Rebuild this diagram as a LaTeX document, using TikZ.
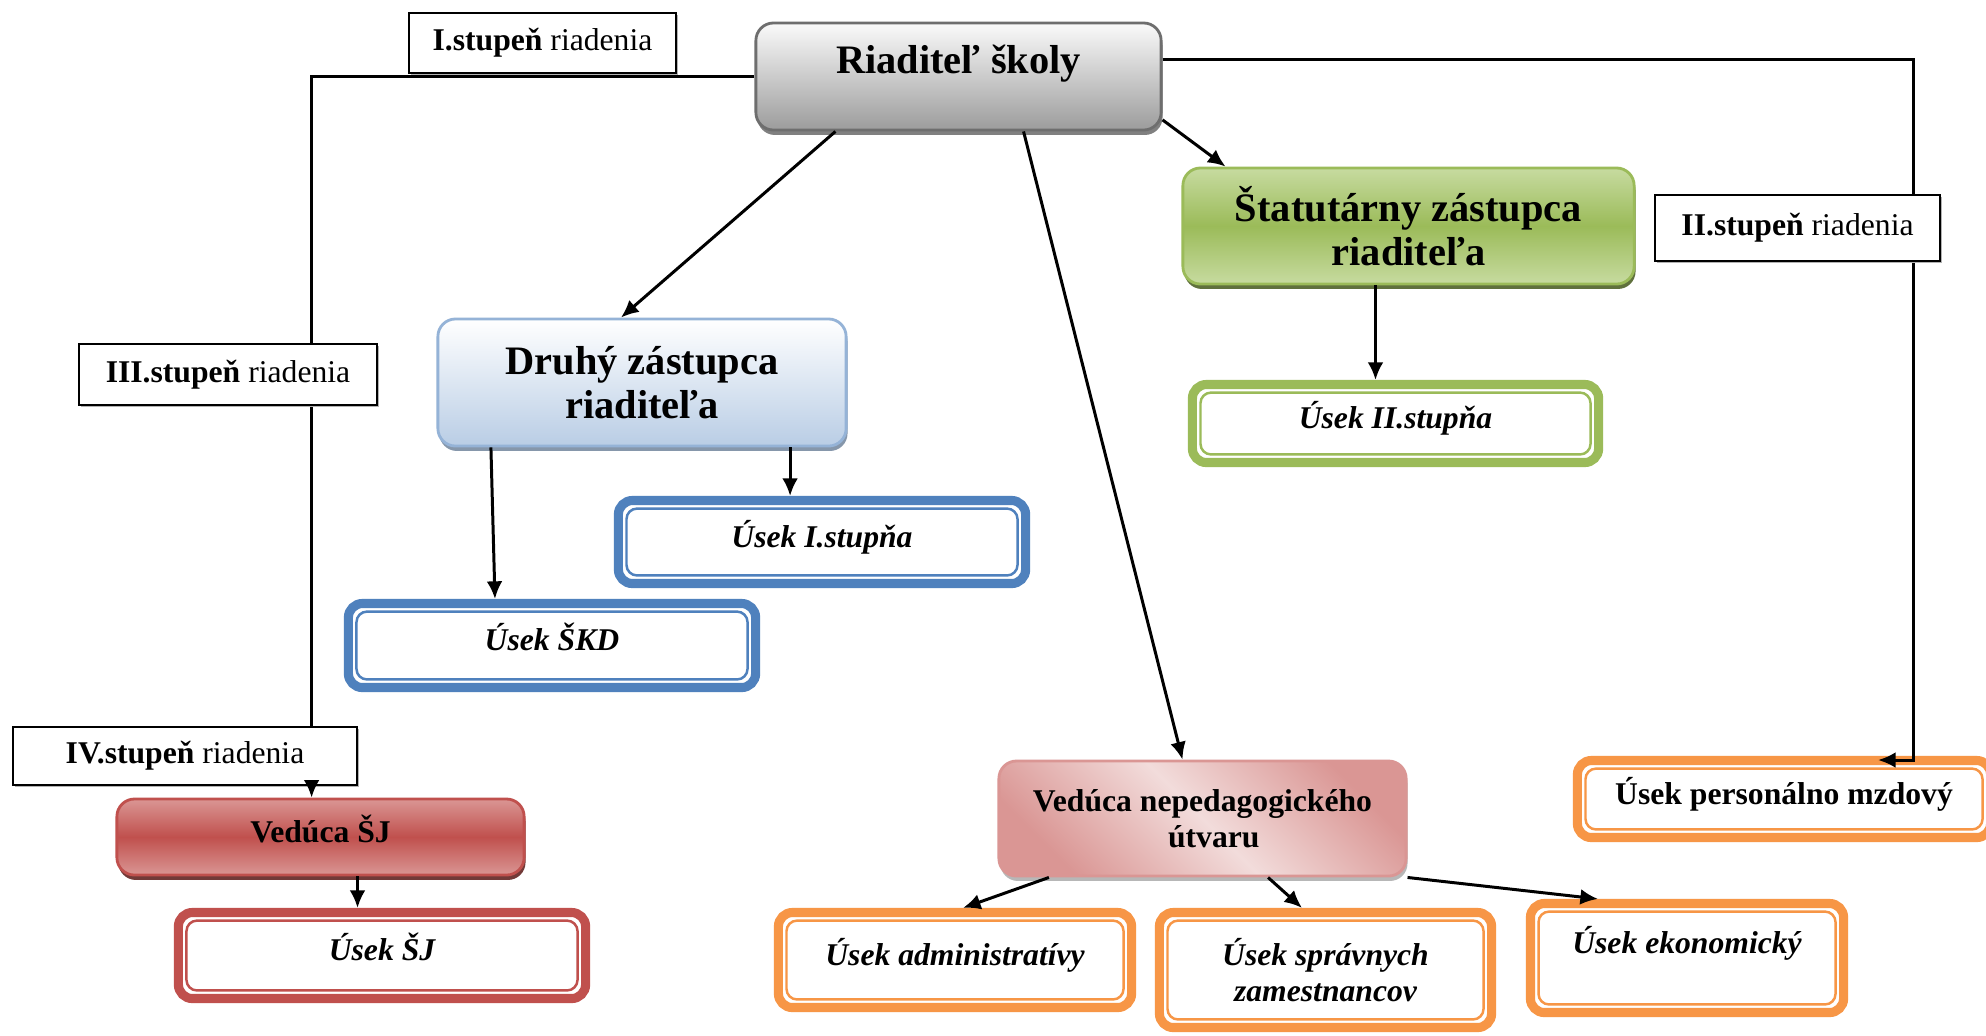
\documentclass[tikz,border=0pt]{standalone}
\usepackage{fontspec}
\setmainfont{Liberation Serif}
\usetikzlibrary{arrows.meta,shadows}

\definecolor{grayTop}{HTML}{FAFAFA}
\definecolor{grayBot}{HTML}{9C9C9C}
\definecolor{grayLine}{HTML}{6E6E6E}
\definecolor{greenMid}{HTML}{9BBB59}
\definecolor{greenLight}{HTML}{C7DBA0}
\definecolor{greenDark}{HTML}{4F6228}
\definecolor{blueLight}{HTML}{B9CDE5}
\definecolor{blueLine}{HTML}{95B3D7}
\definecolor{blueUnit}{HTML}{4F81BD}
\definecolor{redMid}{HTML}{C0504D}
\definecolor{redLight}{HTML}{DA9694}
\definecolor{redDark}{HTML}{632523}
\definecolor{pinkLight}{HTML}{F2DCDB}
\definecolor{orangeUnit}{HTML}{F79646}

\tikzset{
  head/.style={rounded corners=5pt, line width=0.8pt, align=center, inner sep=0pt,
    font=\fontsize{11.5}{12.6}\selectfont\bfseries},
  lvl/.style={draw, line width=0.6pt, fill=white, inner sep=0pt,
    font=\fontsize{9}{10}\selectfont,
    drop shadow={shadow xshift=0.6pt, shadow yshift=-0.6pt, fill=black!30, opacity=1}},
  unit/.style={draw=#1, line width=2.6pt, rounded corners=4pt, fill=white, inner sep=0pt,
    align=center, font=\fontsize{9}{10.4}\selectfont\bfseries\itshape},
  one/.style={text height=0.2cm, text depth=0.1cm},
  inner/.style={draw=#1, line width=0.7pt, rounded corners=3pt},
  link/.style={line width=0.85pt},
}

\begin{document}
\begin{tikzpicture}[x=0.01cm, y=-0.01cm, >={Latex[length=5pt,width=4.5pt]}]
    \useasboundingbox[fill=white] (0,0) rectangle (1986,1035);

    % Head boxes
    \node[head, draw=grayLine, top color=grayTop, bottom color=grayBot,
        drop shadow={shadow xshift=0.4pt, shadow yshift=-1.4pt, fill=black!55, opacity=0.9},
        minimum width=4.05cm, minimum height=1.07cm, text height=0.27cm, text depth=0.33cm]
        (riad) at (958.5,76.5) {Riaditeľ školy};
    \node[head, draw=greenMid, top color=greenLight, bottom color=greenLight, middle color=greenMid,
        drop shadow={shadow xshift=0.4pt, shadow yshift=-1.4pt, fill=greenDark, opacity=0.9},
        minimum width=4.51cm, minimum height=1.16cm]
        (stat) at (1408.5,226) {Štatutárny zástupca\\riaditeľa};
    \node[head, draw=blueLine, top color=white, bottom color=blueLight,
        drop shadow={shadow xshift=0.4pt, shadow yshift=-1.4pt, fill=blueLine!70!black, opacity=0.8},
        minimum width=4.08cm, minimum height=1.27cm]
        (druhy) at (642,382.5) {Druhý zástupca\\riaditeľa};
    \node[head, one, draw=redMid, top color=redLight, bottom color=redLight, middle color=redMid,
        drop shadow={shadow xshift=0.4pt, shadow yshift=-1.4pt, fill=redDark, opacity=0.9},
        minimum width=4.07cm, minimum height=0.76cm, font=\fontsize{9}{10.4}\selectfont\bfseries]
        (vsj) at (320.5,837) {Vedúca ŠJ};
    \node[head, draw=redLight, top color=redLight, bottom color=redLight, middle color=pinkLight,
        shading angle=-45, align=left,
        drop shadow={shadow xshift=0.4pt, shadow yshift=-1.4pt, fill=black!35, opacity=0.8},
        minimum width=4.07cm, minimum height=1.15cm, font=\fontsize{9}{10.1}\selectfont\bfseries]
        (vnu) at (1202.5,818.5) {Vedúca nepedagogického\\\hspace*{1.35cm}útvaru};

    % Units
    \node[unit=greenMid, one, minimum width=4.06cm, minimum height=0.78cm] (u2) at (1395.5,423.5) {Úsek II.stupňa};
    \node[unit=blueUnit, one, minimum width=4.07cm, minimum height=0.83cm] (u1) at (822,542) {Úsek I.stupňa};
    \node[unit=blueUnit, one, minimum width=4.07cm, minimum height=0.84cm] (skd) at (552,645.5) {Úsek ŠKD};
    \node[unit=redMid, one, minimum width=4.07cm, minimum height=0.86cm] (usj) at (382,955.5) {Úsek ŠJ};
    \node[unit=orangeUnit, one, minimum width=3.53cm, minimum height=0.95cm] (adm) at (955,960) {Úsek administratívy};
    \node[unit=orangeUnit, minimum width=3.32cm, minimum height=1.15cm] (spr) at (1325.5,970) {Úsek správnych\\zamestnancov};
    \node[unit=orangeUnit, minimum width=3.13cm, minimum height=1.09cm] (eko) at (1687,958) {Úsek ekonomický\\\mbox{}};
    \node[unit=orangeUnit, one, minimum width=4.13cm, minimum height=0.77cm,
        font=\fontsize{9}{10.4}\selectfont\bfseries] (pmz) at (1784,799) {Úsek personálno mzdový};
    \foreach \n/\c in {u2/greenMid, u1/blueUnit, skd/blueUnit, usj/redMid,
        adm/orangeUnit, spr/orangeUnit, eko/orangeUnit, pmz/orangeUnit}
        \draw[inner=\c] ([shift={(3.6pt,-3.6pt)}]\n.north west) rectangle ([shift={(-3.6pt,3.6pt)}]\n.south east);

    % Connectors
    \coordinate (ivtop) at (311.6,727);
    \coordinate (rturn) at (1913,760);
    \coordinate (pmzin) at (1878,760);
    \draw[link] (riad.west) -| (ivtop);
    \draw[link,->] ([yshift=4.8pt]riad.east) -| (rturn) -- (pmzin);
    \draw[link,->] (riad.-12) -- (stat.162);
    \draw[link,->] ([xshift=-1.23cm]riad.south) -- ([xshift=-0.21cm]druhy.north);
    \draw[link,->] ([xshift=0.65cm]riad.south) -- ([xshift=-0.2cm]vnu.north);
    \draw[link,->] ([xshift=-0.33cm]stat.south) -- ([xshift=-0.33cm]stat.south |- u2.north);
    \draw[link,->] ([xshift=1.48cm]druhy.south) -- ([xshift=1.48cm]druhy.south |- u1.north);
    \draw[link,->] ([xshift=-1.51cm]druhy.south) -- ([xshift=-0.57cm]skd.north);
    \draw[link,->] ([xshift=0.37cm]vsj.south) -- ([xshift=0.37cm]vsj.south |- usj.north);
    \draw[link,->] ([xshift=-1.535cm]vnu.south) -- ([xshift=0.08cm]adm.north);
    \draw[link,->] ([xshift=0.655cm]vnu.south) -- ([xshift=-0.235cm]spr.north);
    \draw[link,->] (vnu.south east) -- ([xshift=-0.89cm]eko.north);

    % Levels
    \node[lvl, minimum width=2.67cm, minimum height=0.60cm] (l1) at (542.5,43) {\textbf{I.stupeň} riadenia};
    \node[lvl, minimum width=2.85cm, minimum height=0.66cm] (l2) at (1797.5,228) {\textbf{II.stupeň} riadenia};
    \node[lvl, minimum width=2.98cm, minimum height=0.61cm] (l3) at (228,374.5) {\textbf{III.stupeň} riadenia};
    \node[lvl, minimum width=3.44cm, minimum height=0.58cm] (l4) at (185,756) {\textbf{IV.stupeň} riadenia};
    \draw[link,->] (l4.south -| ivtop) -- (vsj.north -| ivtop);
\end{tikzpicture}
\end{document}
